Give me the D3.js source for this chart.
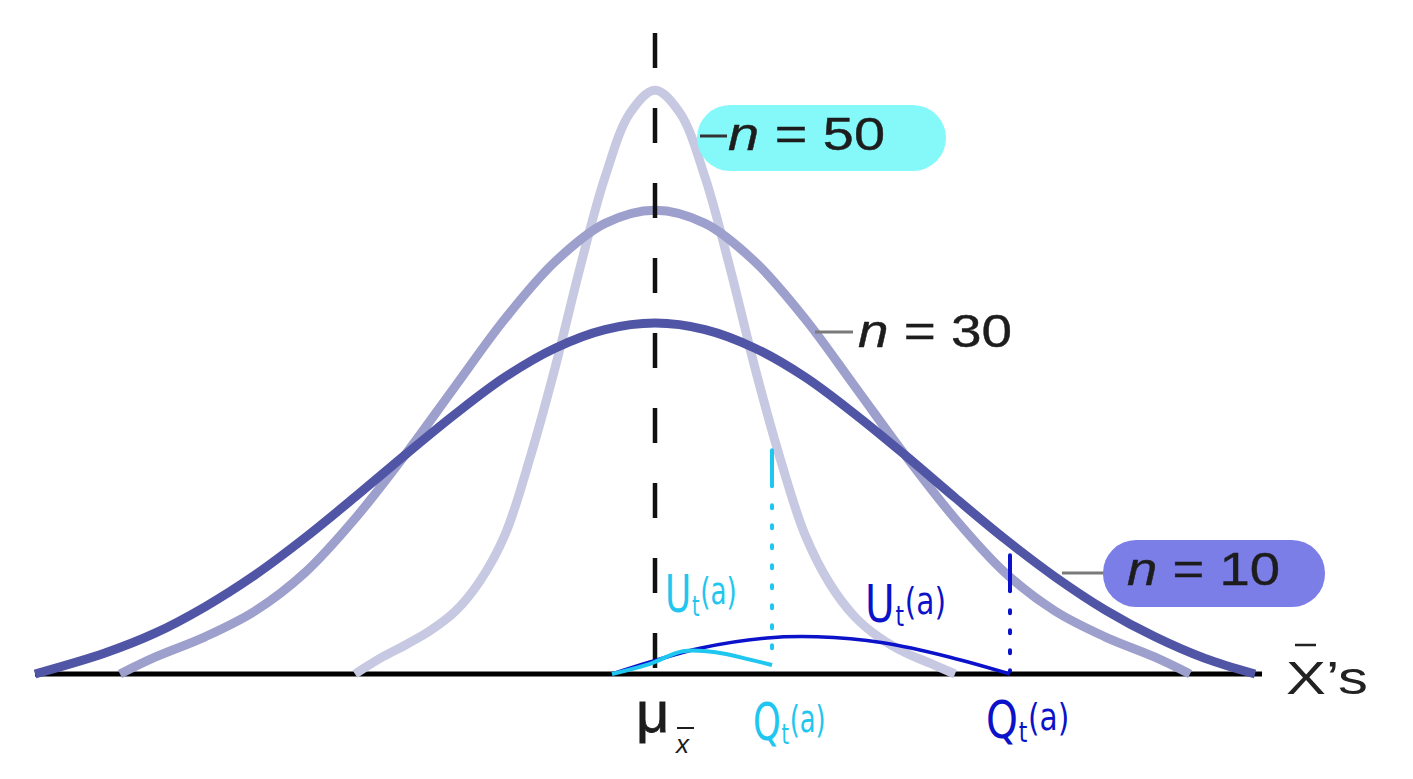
<!DOCTYPE html>
<html>
<head>
<meta charset="utf-8">
<script src="https://cdn.jsdelivr.net/npm/d3@7"></script>
<style>
  body { margin: 0; background: #fff; }
  svg { display: block; }
</style>
</head>
<body>
<svg></svg>
<script>
// curve heights (x in units from the mean, height as share of plot)
let xs10 = [-6.2, -5.5, -5, -4.5, -4, -3.5, -3, -2.5, -2, -1.5, -1, -0.5, 0, 0.5, 1, 1.5, 2, 2.5, 3, 3.5, 4, 4.5, 5, 5.5, 6.0]
let n10 = [0, 0.035, 0.068, 0.112, 0.165, 0.227, 0.295, 0.365, 0.433, 0.495, 0.543, 0.574, 0.585, 0.574, 0.543, 0.495, 0.433, 0.365, 0.294, 0.225, 0.162, 0.107, 0.062, 0.026, 0]

let xs30 = [-5.35, -5, -4.5, -4, -3.5, -3, -2.5, -2, -1.5, -1, -0.5, 0, 0.5, 1, 1.5, 2, 2.5, 3, 3.5, 4, 4.5, 5, 5.35]
let n30 = [0, 0.028, 0.062, 0.105, 0.169, 0.259, 0.365, 0.479, 0.592, 0.687, 0.751, 0.773, 0.751, 0.687, 0.592, 0.479, 0.365, 0.259, 0.169, 0.105, 0.062, 0.028, 0]

let xs50 = [-3, -2.75, -2.5, -2.25, -2, -1.75, -1.5, -1.25, -1, -0.75, -0.5, -0.25, 0, 0.25, 0.5, 0.75, 1, 1.25, 1.5, 1.75, 2, 2.25, 2.5, 2.75, 3]
let n50 = [0, 0.026, 0.048, 0.072, 0.104, 0.155, 0.232, 0.36, 0.51, 0.677, 0.828, 0.935, 0.973, 0.935, 0.828, 0.677, 0.51, 0.36, 0.232, 0.15, 0.095, 0.06, 0.036, 0.018, 0]

let seriesNames = ['n = 10', 'n = 30', 'n = 50']

// hand drawn annotations
let cyanArcX = [-0.43, -0.05, 0.28, 0.62, 0.95, 1.17]
let cyanArcY = [0, 0.017, 0.038, 0.036, 0.024, 0.015]
let blueArcX = [-0.43, -0.05, 0.45, 1.12, 1.62, 2.28, 2.95, 3.55]
let blueArcY = [0, 0.02, 0.043, 0.06, 0.062, 0.052, 0.028, 0]
let cyanQ = 1.17
let blueQ = 3.55

let width = 1413
let height = 779

let svg = d3.select('svg').attr('width', width).attr('height', height)

let xScale = d3.scaleLinear().domain([-6.2, 6.05]).range([35, 1260])
let yScale = d3.scaleLinear().domain([0, 1]).range([674, 74])

let line = d3.line()
    .x(d => xScale(d[0]))
    .y(d => yScale(d[1]))
    .curve(d3.curveCatmullRom.alpha(0.5))

let zip = (a, b) => a.map((v, i) => [v, b[i]])

let curves = [
    { name: seriesNames[2], pts: zip(xs50, n50), color: '#c7c8e1' },
    { name: seriesNames[1], pts: zip(xs30, n30), color: '#9d9fcc' },
    { name: seriesNames[0], pts: zip(xs10, n10), color: '#5055a6' }
]

// axis line
let xAxis = d3.axisBottom(xScale).ticks(0).tickSizeOuter(0)
let ax = svg.append('g')
    .attr('transform', 'translate(0,' + yScale(0) + ')')
    .call(xAxis)
ax.select('.domain').attr('stroke', '#000').attr('stroke-width', 5)
    .attr('d', 'M' + xScale(-6.2) + ',0H' + (xScale(6.05) + 2))

svg.selectAll('path.curve')
    .data(curves)
    .enter()
    .append('path')
    .attr('class', 'curve')
    .attr('d', d => line(d.pts))
    .attr('fill', 'none')
    .attr('stroke', d => d.color)
    .attr('stroke-width', 9)
    .attr('stroke-linecap', 'butt')

// dashed mean line
svg.append('line')
    .attr('x1', xScale(0)).attr('x2', xScale(0))
    .attr('y1', 33).attr('y2', yScale(0))
    .attr('stroke', '#111')
    .attr('stroke-width', 4.5)
    .attr('stroke-dasharray', '35,40')

// leader lines
let leaders = [[815, 853, 332], [1062, 1122, 573]]
svg.selectAll('line.lead')
    .data(leaders)
    .enter()
    .append('line')
    .attr('x1', d => d[0]).attr('x2', d => d[1])
    .attr('y1', d => d[2]).attr('y2', d => d[2])
    .attr('stroke', '#7a7a7a')
    .attr('stroke-width', 3)

// label pills
svg.append('rect').attr('x', 697).attr('y', 105).attr('width', 249).attr('height', 66)
    .attr('rx', 33).attr('fill', '#80f9f9').attr('opacity', 0.96)
svg.append('line').attr('x1', 700).attr('x2', 727).attr('y1', 136).attr('y2', 136)
    .attr('stroke', '#333').attr('stroke-width', 3)
svg.append('rect').attr('x', 1103).attr('y', 540).attr('width', 222).attr('height', 67)
    .attr('rx', 33).attr('fill', '#7b7ee6')

let labelPos = [[1127, 585, 153], [858, 347, 154], [728, 150, 157]]
seriesNames.forEach((name, i) => {
    let p = labelPos[i]
    let t = svg.append('text')
        .attr('x', p[0]).attr('y', p[1])
        .attr('font-family', 'Liberation Sans, Arial, sans-serif')
        .attr('font-size', 47)
        .attr('fill', '#1d1d1d')
        .attr('stroke', '#1d1d1d')
        .attr('stroke-width', 0.4)
        .attr('textLength', p[2])
        .attr('lengthAdjust', 'spacingAndGlyphs')
    t.append('tspan').attr('font-style', 'italic').text('n')
    t.append('tspan').text(name.slice(1))
})

// x axis label
svg.append('text')
    .attr('x', 1286).attr('y', 694)
    .attr('font-family', 'Liberation Sans, Arial, sans-serif')
    .attr('font-size', 46)
    .attr('fill', '#222')
    .attr('textLength', 82)
    .attr('lengthAdjust', 'spacingAndGlyphs')
    .text('X\u2019s')
svg.append('line').attr('x1', 1295).attr('x2', 1316).attr('y1', 645).attr('y2', 645)
    .attr('stroke', '#222').attr('stroke-width', 2.5)

// mu label
svg.append('text')
    .attr('x', 636).attr('y', 732)
    .attr('font-family', 'Liberation Sans, Arial, sans-serif')
    .attr('font-size', 58)
    .attr('fill', '#1d1d1d')
    .attr('stroke', '#1d1d1d')
    .attr('stroke-width', 0.8)
    .text('\u03bc')
svg.append('text')
    .attr('x', 676).attr('y', 753)
    .attr('font-family', 'Liberation Sans, Arial, sans-serif')
    .attr('font-style', 'italic')
    .attr('font-size', 26)
    .attr('fill', '#1d1d1d')
    .text('x')
svg.append('line').attr('x1', 677).attr('x2', 694).attr('y1', 728).attr('y2', 728)
    .attr('stroke', '#1d1d1d').attr('stroke-width', 2)

// annotations
let cyan = '#1fc6ef'
let blue = '#0b12c9'

svg.append('path')
    .attr('d', line(zip(blueArcX, blueArcY)))
    .attr('fill', 'none').attr('stroke', blue).attr('stroke-width', 3.5)
svg.append('path')
    .attr('d', line(zip(cyanArcX, cyanArcY)))
    .attr('fill', 'none').attr('stroke', cyan).attr('stroke-width', 4)

let qLines = [
    { x: cyanQ, top: 0.373, bot: 0.015, color: cyan },
    { x: blueQ, top: 0.198, bot: 0.005, color: blue }
]
qLines.forEach(q => {
    let xp = xScale(q.x)
    let yt = yScale(q.top)
    svg.append('line').attr('x1', xp).attr('x2', xp)
        .attr('y1', yt).attr('y2', yt + 36)
        .attr('stroke', q.color).attr('stroke-width', 4).attr('stroke-linecap', 'round')
    svg.append('line').attr('x1', xp).attr('x2', xp)
        .attr('y1', yt + 55).attr('y2', yScale(q.bot))
        .attr('stroke', q.color).attr('stroke-width', 4).attr('stroke-linecap', 'round')
        .attr('stroke-dasharray', '3,17')
})

// handwritten-looking labels: pieces set side by side, squeezed as a group
let handLabels = [
    { main: 'U', x: 665, y: 612, sx: 0.69, color: cyan },
    { main: 'U', x: 865, y: 622, sx: 0.78, color: blue },
    { main: 'Q', x: 753, y: 740, sx: 0.68, color: cyan },
    { main: 'Q', x: 986, y: 738, sx: 0.78, color: blue }
]
handLabels.forEach(h => {
    let g = svg.append('g')
        .attr('transform', 'translate(' + h.x + ',' + h.y + ') scale(' + h.sx + ',1)')
        .attr('font-family', 'DejaVu Sans, sans-serif')
        .attr('fill', h.color)
    let cx = 0
    let pieces = [[h.main, 52, 0], ['t', 28, 4], ['(a)', 38, -8]]
    pieces.forEach(p => {
        let t = g.append('text').attr('x', cx).attr('y', p[2])
            .attr('font-size', p[1]).text(p[0])
        cx += t.node().getComputedTextLength() + 1
    })
})
</script>
</body>
</html>
